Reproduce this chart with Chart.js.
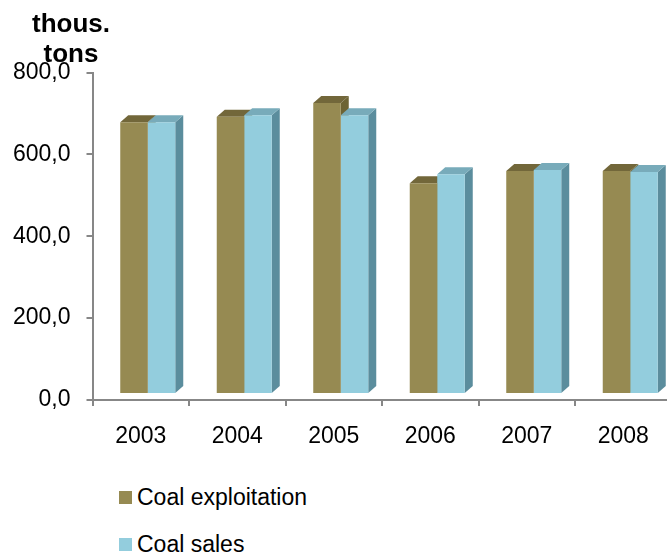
<!DOCTYPE html>
<html>
<head>
<meta charset="utf-8">
<script src="https://cdn.jsdelivr.net/npm/chart.js@4/dist/chart.umd.min.js"></script>
<style>
  body { margin: 0; background: #fff; overflow: hidden; }
  #wrap { position: relative; width: 667px; height: 556px; overflow: hidden; font-family: "Liberation Sans", Arial, sans-serif; }
  #unit { position: absolute; left: 0; top: 8px; width: 142px; text-align: center; font-weight: bold; font-size: 26px; line-height: 30px; color: #000; }
  .leg { position: absolute; left: 137px; font-size: 23px; line-height: 23px; color: #000; white-space: nowrap; }
  .box { position: absolute; left: 119px; width: 13px; height: 13px; }
</style>
</head>
<body>
<div id="wrap">
  <canvas id="myChart" width="680" height="470"></canvas>
  <div id="unit">thous.<br>tons</div>
  <div id="legend"></div>
</div>
<script>
const years = ["2003", "2004", "2005", "2006", "2007", "2008"];
const exploitation = [664, 677, 711, 515, 545, 545];
const sales = [664, 681, 681, 537, 547, 542];
const yTicks = [0, 200, 400, 600, 800];

// fake 3D: depth of the side/top faces and shift of the front faces
const depth = { dx: 8, dy: -7 };
const shift = { dx: 7, dy: -6 };

// side + top faces of all bars go first, the library then paints the fronts over them
const bars3d = {
  id: "bars3d",
  beforeDatasetsDraw(chart) {
    const ctx = chart.ctx;
    ctx.save();
    ctx.translate(shift.dx, shift.dy);
    chart.data.datasets.forEach((ds, i) => {
      chart.getDatasetMeta(i).data.forEach((bar) => {
        const { x, y, base, width } = bar.getProps(["x", "y", "base", "width"], true);
        const l = x - width / 2, r = x + width / 2;
        ctx.fillStyle = ds.sideColor;
        ctx.beginPath();
        ctx.moveTo(r, base);
        ctx.lineTo(r + depth.dx, base + depth.dy);
        ctx.lineTo(r + depth.dx, y + depth.dy);
        ctx.lineTo(r, y);
        ctx.closePath();
        ctx.fill();
        ctx.fillStyle = ds.topColor;
        ctx.beginPath();
        ctx.moveTo(l, y);
        ctx.lineTo(r, y);
        ctx.lineTo(r + depth.dx, y + depth.dy);
        ctx.lineTo(l + depth.dx, y + depth.dy);
        ctx.closePath();
        ctx.fill();
      });
    });
  },
  afterDatasetsDraw(chart) {
    chart.ctx.restore();
  },
};

const axisColor = "#878787";
const font = { family: "'Liberation Sans', Arial, sans-serif", size: 23 };

const chart = new Chart(document.getElementById("myChart").getContext("2d"), {
  type: "bar",
  data: {
    labels: years,
    datasets: [
      {
        label: "Coal exploitation",
        data: exploitation,
        backgroundColor: "#968a52",
        sideColor: "#6d6434",
        topColor: "#72673a",
      },
      {
        label: "Coal sales",
        data: sales,
        backgroundColor: "#93cddd",
        sideColor: "#5b8d9d",
        topColor: "#78abba",
      },
    ],
  },
  options: {
    responsive: false,
    animation: false,
    categoryPercentage: 0.57,
    barPercentage: 1.0,
    layout: { padding: { top: 72.5, right: 8.5, left: 0, bottom: 0 } },
    plugins: {
      legend: { display: false },
      tooltip: { enabled: false },
    },
    scales: {
      x: {
        grid: { offset: true, drawOnChartArea: false, color: axisColor, lineWidth: 2, tickLength: 6 },
        border: { display: true, color: axisColor, width: 2 },
        ticks: { color: "#000", font: font, padding: 17 },
        afterFit: (scale) => { scale.height = 70; },
      },
      y: {
        min: 0,
        max: 800,
        afterBuildTicks: (scale) => { scale.ticks = yTicks.map((v) => ({ value: v })); },
        grid: { drawOnChartArea: false, color: axisColor, lineWidth: 2, tickLength: 6 },
        border: { display: true, color: axisColor, width: 2 },
        ticks: {
          color: "#000",
          font: font,
          padding: 16,
          callback: (v) => v.toFixed(1).replace(".", ","),
        },
        afterFit: (scale) => { scale.width = 92.5; },
      },
    },
  },
  plugins: [bars3d],
});

// legend below the chart, one item per row
const legend = document.getElementById("legend");
chart.data.datasets.forEach((ds, i) => {
  const top = 486 + i * 47;
  const box = document.createElement("div");
  box.className = "box";
  box.style.top = top + 4.5 + "px";
  box.style.background = ds.backgroundColor;
  const txt = document.createElement("div");
  txt.className = "leg";
  txt.style.top = top + "px";
  txt.textContent = ds.label;
  legend.appendChild(box);
  legend.appendChild(txt);
});
</script>
</body>
</html>
